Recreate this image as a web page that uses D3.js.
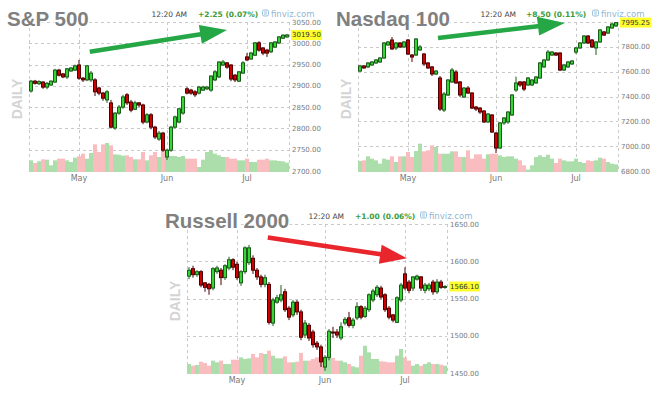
<!DOCTYPE html>
<html>
<head>
<meta charset="utf-8">
<script src="https://cdn.jsdelivr.net/npm/d3@7"></script>
<style>
body { margin: 0; background: #fff; }
svg { display: block; font-family: "DejaVu Sans", Verdana, sans-serif; }
</style>
</head>
<body>
<svg id="chart" width="659" height="399"></svg>
<script>
// Daily candles [open, high, low, close], mid April -> mid July
const spxOHLC = [
  [2888,2914,2884,2911],[2911,2914,2903,2906],[2905,2913,2902,2910],[2909,2911,2893,2897],
  [2897,2909,2892,2906],[2902,2913,2900,2911],[2909,2940,2907,2937],[2937,2940,2922,2925],
  [2928,2930,2918,2921],[2921,2942,2916,2940],[2935,2944,2933,2942],[2937,2950,2935,2947],
  [2949,2961,2914,2918],[2918,2921,2909,2914],[2914,2949,2911,2947],[2914,2935,2909,2930],
  [2914,2918,2876,2886],[2895,2898,2878,2883],[2883,2886,2865,2871],[2867,2890,2860,2886],
  [2860,2867,2800,2803],[2801,2838,2797,2836],[2836,2855,2832,2850],[2850,2879,2846,2874],
  [2879,2883,2855,2860],[2862,2867,2838,2843],[2845,2865,2843,2860],[2860,2862,2850,2855],
  [2855,2858,2810,2815],[2815,2836,2812,2832],[2832,2836,2798,2803],[2803,2806,2775,2780],
  [2775,2794,2771,2789],[2789,2792,2745,2749],[2733,2752,2726,2749],[2749,2806,2745,2803],
  [2803,2830,2800,2827],[2815,2848,2812,2846],[2836,2876,2832,2874],[2893,2897,2880,2883],
  [2890,2893,2879,2883],[2886,2890,2874,2879],[2883,2900,2880,2897],[2890,2900,2888,2897],
  [2893,2900,2890,2897],[2890,2925,2886,2923],[2914,2937,2911,2933],[2921,2958,2918,2956],
  [2949,2961,2947,2956],[2954,2956,2940,2944],[2949,2951,2911,2916],[2925,2928,2909,2914],
  [2911,2935,2909,2933],[2930,2958,2928,2954],[2968,2977,2958,2961],[2963,2980,2961,2977],
  [2972,3003,2970,3001],[3001,3005,2980,2984],[2989,2991,2972,2977],[2984,2987,2968,2977],
  [2980,3003,2977,3001],[2991,3005,2989,3003],[3001,3017,2998,3015],[3012,3021,3010,3019],
  [3015,3022,3013,3019.5]
];
const spxVol = [35,27,32,38,37,20,35,40,40,35,30,43,47,55,40,57,83,60,83,87,
  80,53,52,49,50,45,38,38,60,35,50,60,45,65,50,48,48,45,48,40,
  40,40,15,37,60,65,55,50,45,45,40,40,35,35,40,30,30,37,37,40,35,35,33,32,28];

const ndxOHLC = [
  [7605,7655,7597,7646],[7646,7654,7622,7630],[7638,7678,7630,7670],[7654,7686,7646,7678],
  [7670,7702,7662,7694],[7678,7718,7670,7710],[7710,7839,7702,7831],[7815,7847,7807,7839],
  [7855,7879,7775,7783],[7791,7839,7775,7831],[7831,7839,7791,7799],[7799,7847,7791,7839],
  [7855,7863,7734,7742],[7734,7742,7678,7718],[7734,7871,7726,7863],[7775,7815,7767,7799],
  [7742,7750,7646,7662],[7670,7678,7622,7630],[7638,7646,7565,7581],[7581,7613,7573,7605],
  [7549,7565,7283,7299],[7291,7436,7275,7420],[7412,7541,7404,7533],[7517,7630,7509,7613],
  [7597,7613,7501,7509],[7517,7525,7396,7412],[7396,7476,7388,7468],[7468,7484,7420,7428],
  [7428,7436,7299,7307],[7315,7323,7283,7299],[7307,7315,7259,7275],[7283,7291,7187,7195],
  [7195,7267,7187,7259],[7251,7259,7106,7114],[7106,7114,6945,6985],[6985,7195,6977,7187],
  [7187,7235,7171,7227],[7195,7283,7179,7275],[7251,7420,7243,7412],[7452,7560,7436,7509],
  [7517,7525,7476,7493],[7517,7525,7444,7460],[7493,7557,7484,7549],[7493,7541,7484,7533],
  [7509,7565,7501,7557],[7549,7678,7541,7670],[7638,7702,7630,7694],[7694,7775,7686,7758],
  [7734,7767,7726,7758],[7750,7758,7726,7734],[7750,7758,7605,7613],[7613,7662,7605,7654],
  [7638,7686,7630,7678],[7662,7694,7654,7686],[7758,7799,7742,7791],[7791,7839,7783,7831],
  [7831,7895,7823,7887],[7887,7895,7823,7831],[7855,7863,7791,7799],[7791,7847,7734,7839],
  [7839,7944,7831,7936],[7920,7928,7887,7895],[7911,7968,7903,7960],[7952,7992,7944,7984],
  [7968,8000,7960,7995.25]
];
const ndxVol = [33,35,47,40,35,25,40,37,47,30,47,47,60,45,63,85,62,65,80,75,
  55,55,55,62,62,45,45,65,40,53,53,40,53,55,55,50,45,47,47,40,
  35,20,7,20,45,50,45,52,40,27,40,35,32,32,40,30,27,35,33,35,43,40,30,25,23];

const rutOHLC = [
  [1580,1592,1576,1588],[1590,1594,1578,1582],[1582,1588,1579,1586],[1586,1588,1565,1568],
  [1571,1572,1559,1565],[1569,1571,1555,1563],[1564,1592,1561,1590],[1586,1594,1583,1591],
  [1588,1591,1568,1578],[1578,1596,1575,1594],[1591,1606,1588,1602],[1602,1604,1588,1592],
  [1596,1599,1575,1578],[1571,1588,1567,1586],[1586,1620,1583,1618],[1598,1622,1595,1618],
  [1604,1608,1583,1588],[1588,1591,1575,1579],[1579,1582,1565,1569],[1569,1582,1565,1578],
  [1569,1572,1515,1518],[1517,1551,1513,1548],[1545,1555,1543,1551],[1548,1568,1545,1555],
  [1559,1563,1532,1535],[1537,1540,1521,1525],[1528,1548,1525,1545],[1545,1548,1528,1532],
  [1532,1535,1494,1498],[1501,1521,1497,1517],[1514,1517,1493,1497],[1505,1508,1484,1488],
  [1490,1493,1481,1485],[1485,1488,1458,1465],[1458,1474,1453,1471],[1471,1509,1467,1506],
  [1505,1512,1497,1504],[1505,1509,1497,1501],[1497,1518,1494,1512],[1517,1525,1514,1522],
  [1524,1532,1511,1514],[1514,1524,1510,1521],[1524,1545,1521,1539],[1539,1541,1522,1525],
  [1526,1540,1524,1537],[1535,1557,1532,1555],[1548,1563,1545,1560],[1555,1568,1552,1565],
  [1564,1567,1549,1552],[1555,1557,1532,1535],[1537,1540,1522,1525],[1528,1529,1518,1521],
  [1518,1553,1517,1551],[1548,1571,1545,1568],[1583,1592,1561,1564],[1572,1575,1557,1561],
  [1564,1580,1560,1579],[1576,1582,1574,1580],[1579,1580,1560,1564],[1561,1571,1557,1568],
  [1563,1571,1560,1568],[1572,1575,1555,1559],[1559,1576,1556,1572],[1572,1575,1563,1565],
  [1565,1568,1563,1566.1]
];
const rutVol = [30,25,27,37,33,25,40,35,40,30,30,43,43,50,45,47,60,50,63,60,
  70,55,47,47,53,35,35,37,63,40,40,45,50,50,40,50,48,40,40,35,
  30,23,20,55,85,65,45,45,38,37,35,35,55,75,50,40,25,30,25,30,35,30,30,28,25];

// axis labels and month starts (candle index)
const spxTicks = [3050, 3000, 2950, 2900, 2850, 2800, 2750, 2700];
const ndxTicks = [8000, 7800, 7600, 7400, 7200, 7000, 6800];
const rutTicks = [1650, 1600, 1550, 1500, 1450];
const months = ["May", "Jun", "Jul"];
const monthStart = [12, 34, 54];

// arrows drawn on the charts: [fromIndex, fromPrice, toIndex, toPrice]
const spxArrow = [15.2, 2980, 49.5, 3031];
const ndxArrow = [20, 7871, 51.7, 7992];
const rutArrow = [20.2, 1632, 55, 1604];

const panels = [
  { title: "S&P 500", ohlc: spxOHLC, vol: spxVol, ticks: spxTicks, last: "3019.50",
    change: "+2.25 (0.07%)", arrow: spxArrow, arrowColor: "#25a746",
    left: 29, top: 22, timeEnd: 187, changeX: 198, vizX: 262 },
  { title: "Nasdaq 100", ohlc: ndxOHLC, vol: ndxVol, ticks: ndxTicks, last: "7995.25",
    change: "+8.50 (0.11%)", arrow: ndxArrow, arrowColor: "#25a746",
    left: 358, top: 22, timeEnd: 516, changeX: 526, vizX: 592 },
  { title: "Russell 2000", ohlc: rutOHLC, vol: rutVol, ticks: rutTicks, last: "1566.10",
    change: "+1.00 (0.06%)", arrow: rutArrow, arrowColor: "#e8262c",
    left: 187, top: 224, timeEnd: 344, changeX: 355, vizX: 420 }
];

const step = 4, plotH = 149;
const svg = d3.select("#chart");

function drawPanel(p) {
  const n = p.ohlc.length;
  const right = p.left + n * step;
  const bottom = p.top + plotH;
  const x = d3.scaleBand().domain(d3.range(n)).range([p.left, right]);
  const y = d3.scaleLinear().domain(d3.extent(p.ticks)).range([bottom, p.top]);
  const v = d3.scaleLinear().domain([0, 100]).range([0, 33.3]);
  const g = svg.append("g");
  const mid = (i) => x(i) + 2;

  // grid
  const grid = g.append("g").attr("stroke", "#c9c9c9").attr("stroke-dasharray", "3,3")
    .attr("stroke-width", 1).attr("shape-rendering", "crispEdges");
  grid.selectAll("line.h").data(p.ticks.filter((t) => t !== d3.min(p.ticks))).join("line")
    .attr("x1", p.left).attr("x2", right)
    .attr("y1", (d) => Math.round(y(d)) + 0.5).attr("y2", (d) => Math.round(y(d)) + 0.5);
  grid.selectAll("line.v").data([p.left, right].concat(monthStart.map(mid))).join("line")
    .attr("x1", (d) => Math.round(d) + 0.5).attr("x2", (d) => Math.round(d) + 0.5)
    .attr("y1", p.top).attr("y2", bottom);

  // volume
  g.append("g").selectAll("rect").data(p.vol).join("rect")
    .attr("x", (d, i) => x(i)).attr("width", step)
    .attr("y", (d) => bottom + 1 - v(d)).attr("height", (d) => v(d))
    .attr("fill", (d, i) => p.ohlc[i][3] >= p.ohlc[i][0] ? "#abdeab" : "#f9bcbf");

  // candles
  const c = g.append("g").selectAll("g").data(p.ohlc).join("g");
  const up = (d) => d[3] >= d[0];
  c.append("line")
    .attr("x1", (d, i) => mid(i)).attr("x2", (d, i) => mid(i))
    .attr("y1", (d) => y(d[1])).attr("y2", (d) => y(d[2]))
    .attr("stroke", (d) => up(d) ? "#1b5a1b" : "#4d0000").attr("stroke-width", 1);
  c.append("rect")
    .attr("x", (d, i) => x(i) + 0.5).attr("width", 3)
    .attr("y", (d) => y(Math.max(d[0], d[3])))
    .attr("height", (d) => Math.max(1, Math.abs(y(d[0]) - y(d[3]))))
    .attr("fill", (d) => up(d) ? "#33d633" : "#d00000")
    .attr("stroke", (d) => up(d) ? "#1b5a1b" : "#4d0000").attr("stroke-width", 1);

  // right axis labels, current price highlighted
  const lastY = y(+p.last);
  g.append("g").selectAll("text").data(p.ticks.filter((t) => Math.abs(y(t) - lastY) > 8)).join("text")
    .attr("x", right + 3).attr("y", (d) => y(d) + 2.5)
    .attr("font-size", 7).attr("fill", "#7a7a7a")
    .text((d) => d3.format(".2f")(d));
  g.append("rect").attr("x", right + 2).attr("y", lastY - 5).attr("width", 31).attr("height", 10)
    .attr("fill", "#ffff2e");
  g.append("text").attr("x", right + 3).attr("y", lastY + 2.5).attr("font-size", 7)
    .attr("fill", "#333").text(p.last);

  // months
  g.append("g").selectAll("text").data(months).join("text")
    .attr("x", (d, i) => mid(monthStart[i])).attr("y", bottom + 10)
    .attr("text-anchor", "middle").attr("font-size", 8).attr("fill", "#777")
    .text((d) => d);

  // DAILY
  g.append("text")
    .attr("transform", `translate(${p.left - 7},${p.top + 77}) rotate(-90)`)
    .attr("text-anchor", "middle").attr("font-family", "Liberation Sans, Arial, sans-serif")
    .attr("font-weight", "bold").attr("font-size", 14).attr("fill", "#d4d4d4")
    .text("DAILY");

  // arrow
  const [i1, p1, i2, p2] = p.arrow;
  const ax = d3.scaleLinear().domain([0, n]).range([p.left, right]);
  const sx = ax(i1), sy = y(p1), tx = ax(i2), ty = y(p2);
  const len = Math.hypot(tx - sx, ty - sy), ux = (tx - sx) / len, uy = (ty - sy) / len;
  const hl = 27, hw = 9.5;
  const bx = tx - ux * hl, by = ty - uy * hl;
  g.append("line").attr("x1", sx).attr("y1", sy).attr("x2", bx + ux * 2).attr("y2", by + uy * 2)
    .attr("stroke", p.arrowColor).attr("stroke-width", 4.5);
  g.append("path")
    .attr("d", `M${tx},${ty}L${bx - uy * hw},${by + ux * hw}L${bx + uy * hw},${by - ux * hw}Z`)
    .attr("fill", p.arrowColor);

  // title and header
  g.append("text").attr("x", p.left - 22).attr("y", p.top + 4)
    .attr("font-family", "Liberation Sans, Arial, sans-serif").attr("font-weight", "bold")
    .attr("font-size", 20.5).attr("fill", "#808080")
    .attr("stroke", "#fff").attr("stroke-width", 3).attr("paint-order", "stroke")
    .text(p.title);
  g.append("text").attr("x", p.timeEnd).attr("y", p.top - 5).attr("text-anchor", "end")
    .attr("font-size", 7.5).attr("fill", "#444").text("12:20 AM");
  g.append("text").attr("x", p.changeX).attr("y", p.top - 5)
    .attr("font-size", 7.5).attr("font-weight", "bold").attr("fill", "#3a9c3a").text(p.change);
  const icon = g.append("g").attr("fill", "none").attr("stroke", "#8fb8d8").attr("stroke-width", 0.9);
  icon.append("rect").attr("x", p.vizX + 0.5).attr("y", p.top - 12).attr("width", 6).attr("height", 6).attr("rx", 1.5);
  icon.append("path").attr("d", `M${p.vizX + 2},${p.top - 10}h3M${p.vizX + 2},${p.top - 8}h3`);
  g.append("text").attr("x", p.vizX + 9).attr("y", p.top - 5)
    .attr("font-size", 8.5).attr("fill", "#8fb8d8").text("finviz.com");
}

panels.forEach(drawPanel);
</script>
</body>
</html>
